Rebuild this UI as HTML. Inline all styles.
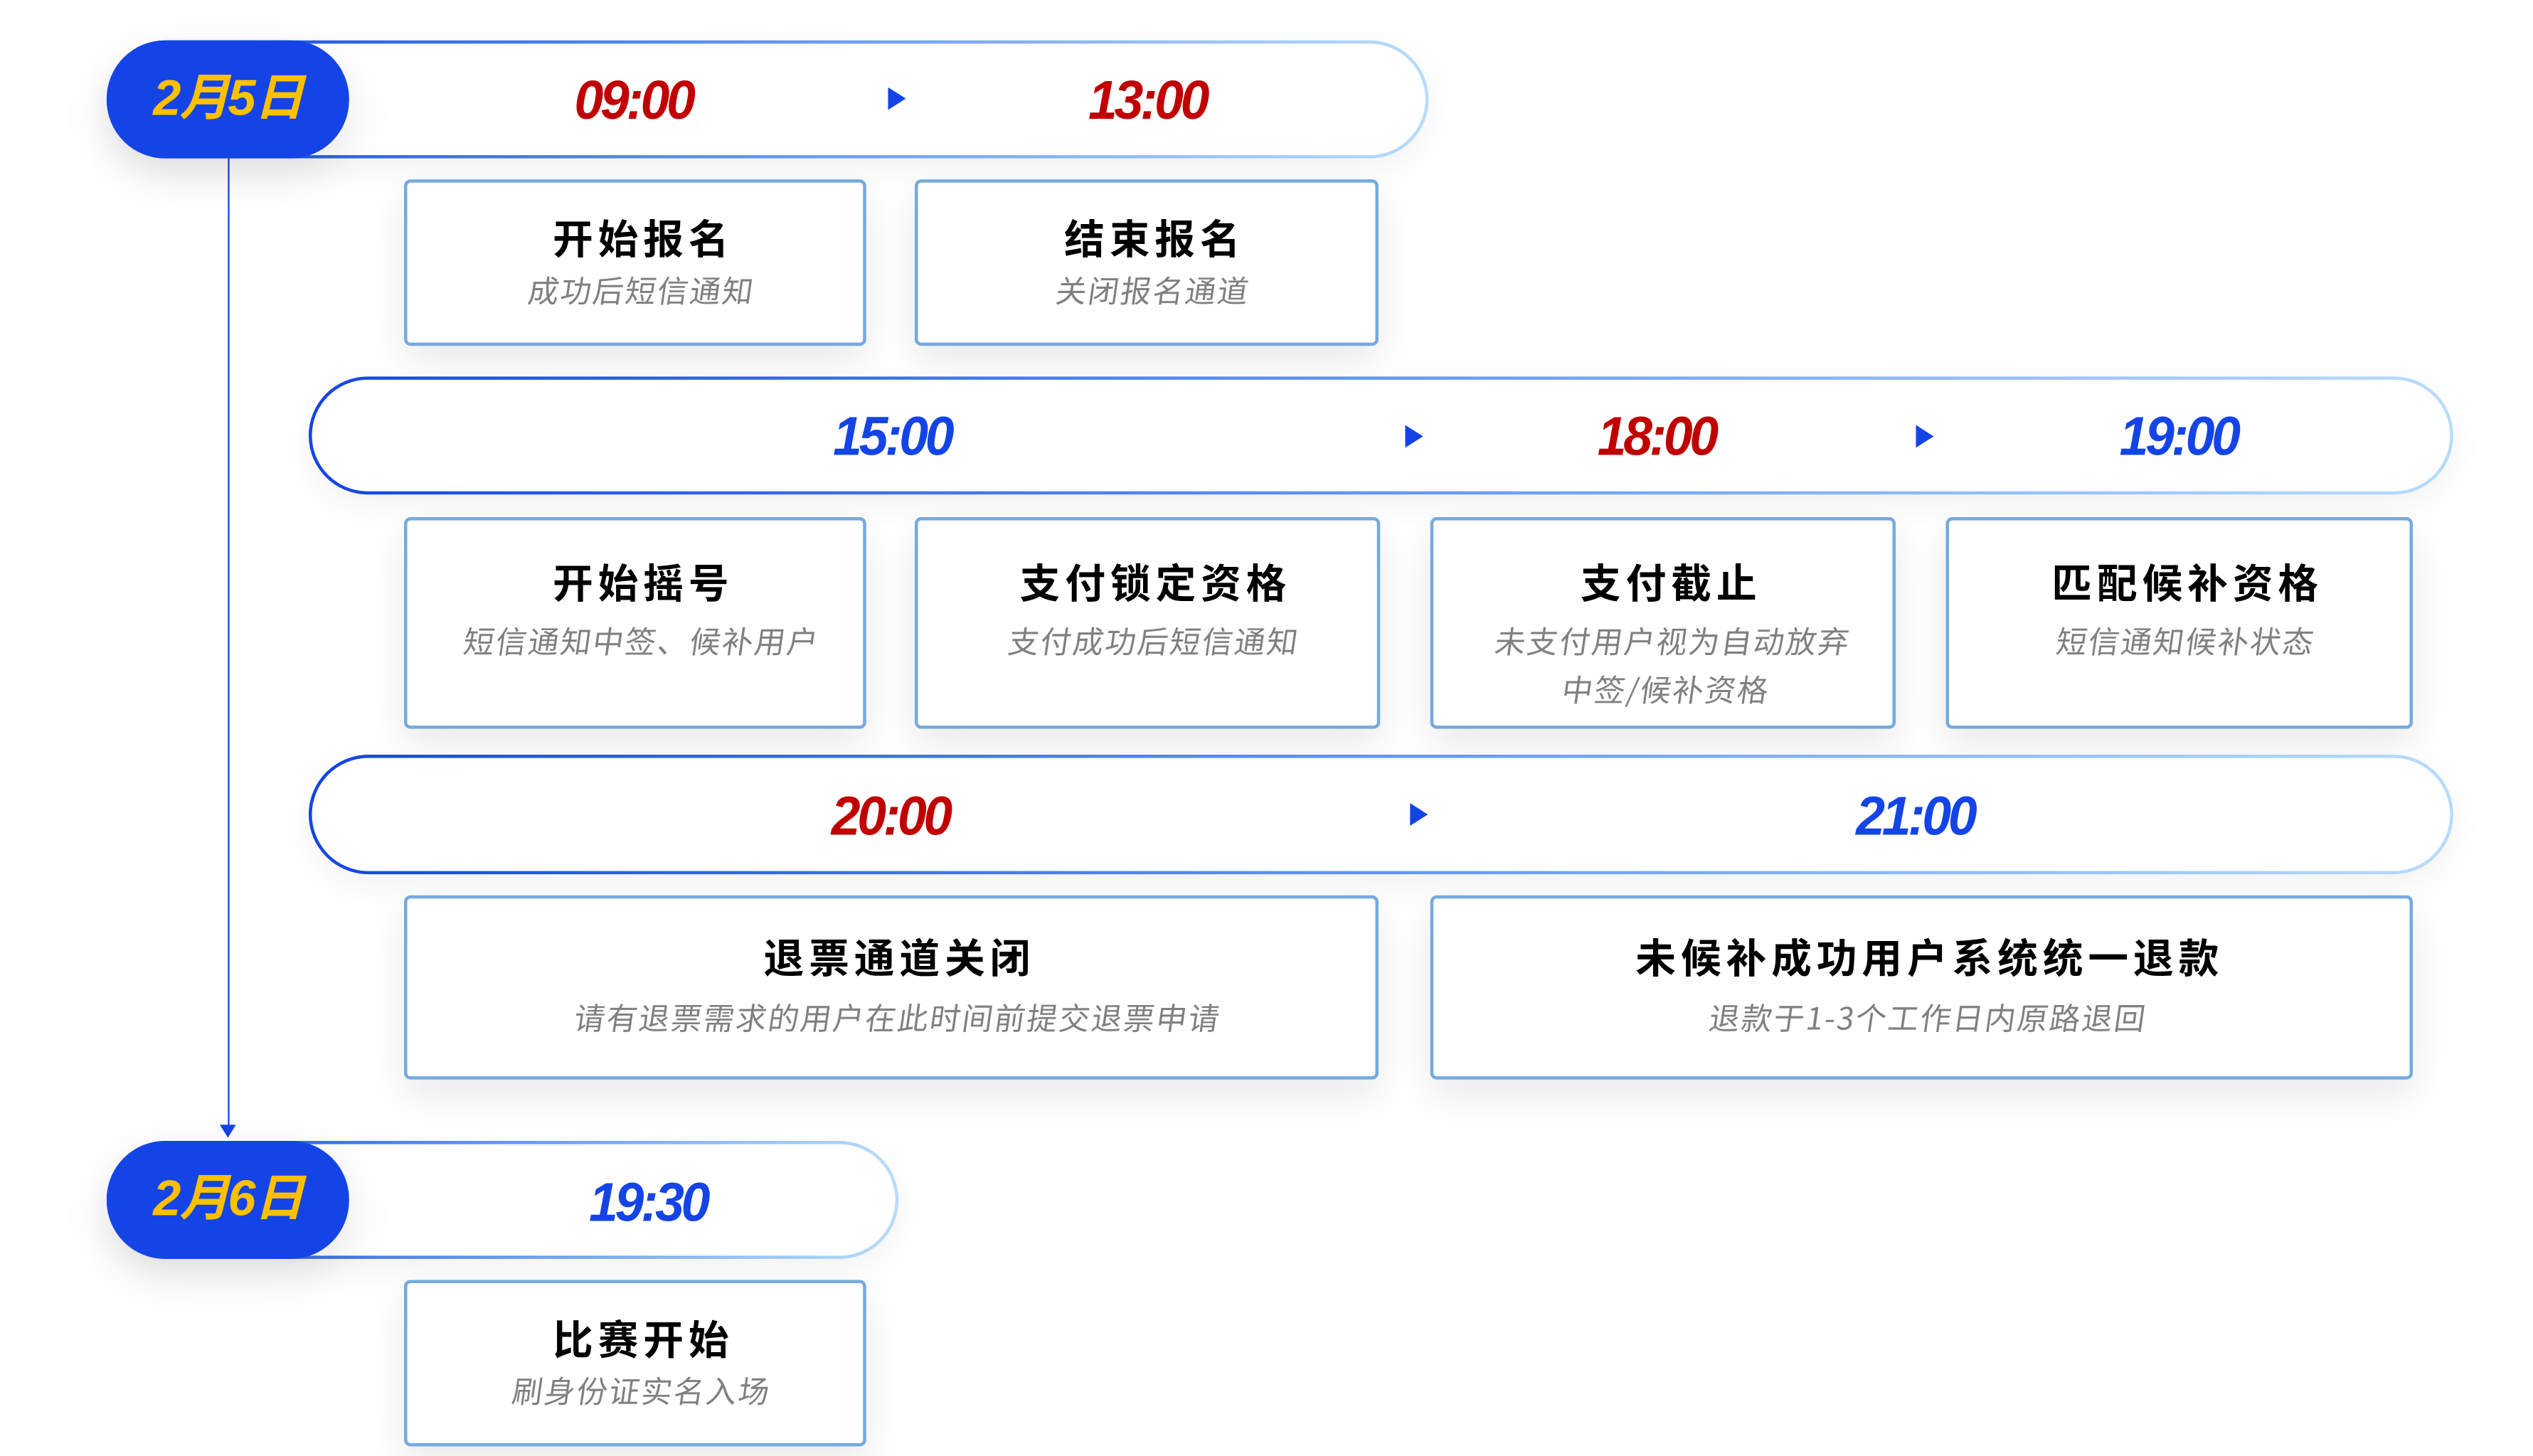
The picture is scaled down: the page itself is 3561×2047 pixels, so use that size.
<!DOCTYPE html>
<html><head><meta charset="utf-8">
<style>
html,body{margin:0;padding:0;background:#fff;}
body{width:3561px;height:2047px;overflow:hidden;position:relative;}
#s{position:absolute;left:0;top:0;width:1561px;height:898px;transform:scale(2.272);transform-origin:0 0;}
.bar{position:absolute;padding:2px;background:linear-gradient(90deg,#1444e6 0%,#5b8ff0 45%,#b8dcfb 100%);border-radius:40px;box-sizing:border-box;box-shadow:0 8px 22px rgba(0,0,0,0.05);}
.bar .in{width:100%;height:100%;background:#fff;border-radius:38px;}
.pill{position:absolute;background:#1444e6;border-radius:36px;color:#ffc000;font:italic bold 31px "Liberation Sans","Noto Sans CJK SC",sans-serif;text-align:center;line-height:72px;box-shadow:0 10px 30px rgba(0,0,0,0.10);letter-spacing:-1px;}
.t{position:absolute;font:italic bold 34px "Liberation Sans",sans-serif;letter-spacing:-2px;transform:translate(-50%,-50%) scaleX(0.95);white-space:nowrap;}
.r{color:#c00000}.b{color:#1444e6}
.tri{position:absolute;width:0;height:0;border-top:7px solid transparent;border-bottom:7px solid transparent;border-left:11px solid #1444e6;transform:translate(-50%,-50%);}
.box{position:absolute;border:2px solid #76aadf;border-radius:4px;background:#fff;box-sizing:border-box;box-shadow:0 10px 26px rgba(0,0,0,0.09);text-align:center;}
.ti{position:absolute;left:10px;right:0;font:bold 25px "Noto Sans CJK SC","WenQuanYi Zen Hei",sans-serif;color:#000;letter-spacing:3px;transform:translateY(-50%);}
.su{position:absolute;left:8px;right:0;font:19px "Noto Sans CJK SC","WenQuanYi Zen Hei",sans-serif;color:#808080;letter-spacing:1px;transform:translateY(-50%) skewX(-8deg);line-height:30px;}
</style></head><body><div id="s">
<div style="position:absolute;left:140.5px;top:97px;width:1px;height:600px;background:#1444e6"></div>
<div style="position:absolute;left:136px;top:696px;width:0;height:0;border-left:5px solid transparent;border-right:5px solid transparent;border-top:8px solid #1444e6"></div>

<div class="bar" style="left:66px;top:25px;width:818px;height:73px"><div class="in"></div></div>
<div class="pill" style="left:66px;top:25px;width:150px;height:73px">2月5日</div>
<div class="t r" style="left:392px;top:63px">09:00</div>
<div class="tri" style="left:555px;top:61px"></div>
<div class="t r" style="left:710px;top:63px">13:00</div>

<div class="box" style="left:250px;top:111px;width:286px;height:103px"><div class="ti" style="top:34px">开始报名</div><div class="su" style="top:67px">成功后短信通知</div></div>
<div class="box" style="left:566px;top:111px;width:287px;height:103px"><div class="ti" style="top:34px">结束报名</div><div class="su" style="top:67px">关闭报名通道</div></div>

<div class="bar" style="left:191px;top:233px;width:1327px;height:73px"><div class="in"></div></div>
<div class="t b" style="left:552px;top:271px">15:00</div>
<div class="tri" style="left:875px;top:270px"></div>
<div class="t r" style="left:1025px;top:271px">18:00</div>
<div class="tri" style="left:1191px;top:270px"></div>
<div class="t b" style="left:1348px;top:271px">19:00</div>

<div class="box" style="left:250px;top:320px;width:286px;height:131px"><div class="ti" style="top:38px">开始摇号</div><div class="su" style="top:75px">短信通知中签、候补用户</div></div>
<div class="box" style="left:566px;top:320px;width:288px;height:131px"><div class="ti" style="top:38px">支付锁定资格</div><div class="su" style="top:75px">支付成功后短信通知</div></div>
<div class="box" style="left:885px;top:320px;width:288px;height:131px"><div class="ti" style="top:38px">支付截止</div><div class="su" style="top:90px">未支付用户视为自动放弃<br>中签/候补资格</div></div>
<div class="box" style="left:1204px;top:320px;width:289px;height:131px"><div class="ti" style="top:38px">匹配候补资格</div><div class="su" style="top:75px">短信通知候补状态</div></div>

<div class="bar" style="left:191px;top:467px;width:1327px;height:74px"><div class="in"></div></div>
<div class="t r" style="left:551px;top:506px">20:00</div>
<div class="tri" style="left:878px;top:504px"></div>
<div class="t b" style="left:1185px;top:506px">21:00</div>

<div class="box" style="left:250px;top:554px;width:603px;height:114px"><div class="ti" style="top:36px">退票通道关闭</div><div class="su" style="top:74px">请有退票需求的用户在此时间前提交退票申请</div></div>
<div class="box" style="left:885px;top:554px;width:608px;height:114px"><div class="ti" style="top:36px">未候补成功用户系统统一退款</div><div class="su" style="top:74px">退款于1-3个工作日内原路退回</div></div>

<div class="bar" style="left:66px;top:706px;width:490px;height:73px"><div class="in"></div></div>
<div class="pill" style="left:66px;top:706px;width:150px;height:73px">2月6日</div>
<div class="t b" style="left:401px;top:745px">19:30</div>

<div class="box" style="left:250px;top:792px;width:286px;height:103px"><div class="ti" style="top:34px">比赛开始</div><div class="su" style="top:67px">刷身份证实名入场</div></div>
</div></body></html>
